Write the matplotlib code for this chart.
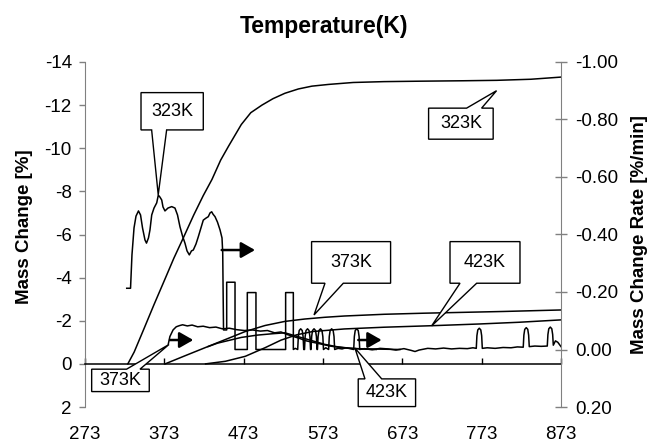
import matplotlib
matplotlib.use("Agg")
import matplotlib.pyplot as plt
from matplotlib.patches import Polygon

plt.rcParams["font.family"] = ["Liberation Sans", "DejaVu Sans"]
plt.rcParams["axes.unicode_minus"] = False

# ---- axis ticks ----
temp_ticks = [273, 373, 473, 573, 673, 773, 873]
mass_ticks = [-14, -12, -10, -8, -6, -4, -2, 0, 2]
rate_ticks = [-1.0, -0.8, -0.6, -0.4, -0.2, 0.0, 0.2]

# ---- mass change [%] vs temperature [K] ----
mass323_T = [327, 335, 347, 360, 374, 385, 397, 410, 422, 433, 444, 454, 462, 470,
             482, 496, 510, 525, 542, 559, 580, 611, 650, 695, 750, 792, 835, 873]
mass323 = [0.0, -0.55, -1.6, -2.75, -3.95, -4.9, -5.85, -6.9, -7.8, -8.55, -9.45, -10.1,
           -10.6, -11.1, -11.65, -12.0, -12.3, -12.55, -12.75, -12.88, -12.96, -13.05,
           -13.09, -13.11, -13.13, -13.15, -13.2, -13.3]

mass373_T = [374, 400, 425, 450, 475, 500, 525, 550, 575, 600, 650, 700, 750, 800, 873]
mass373 = [0.0, -0.39, -0.76, -1.13, -1.5, -1.78, -1.97, -2.08, -2.16, -2.22, -2.3,
           -2.35, -2.39, -2.43, -2.5]

mass423_T = [425, 450, 475, 500, 520, 540, 560, 600, 650, 710, 770, 820, 873]
mass423 = [0.0, -0.12, -0.35, -0.75, -1.1, -1.35, -1.5, -1.62, -1.7, -1.77, -1.85,
           -1.93, -2.04]

# ---- mass change rate [%/min] vs temperature [K] ----
rate323_T = [325.6, 330.4, 332.2, 334.8, 337.3, 340.4, 343.0, 345.5, 348.6, 350.5, 353.0,
             354.9, 357.1, 360.0, 363.4, 365.4, 367.5, 369.7, 371.3, 373.8, 377.6, 382.3,
             386.4, 389.6, 392.7, 395.9, 399.1, 401.6, 404.5, 407.2, 409.5, 412.9, 415.8,
             419.2, 422.1, 425.5, 428.4, 430.6, 432.7, 434.3, 436.9, 440.0, 443.2, 445.7,
             446.6, 447.2, 447.6, 451.6, 451.6, 462.1, 462.1, 477.6, 477.6, 488.5, 488.5,
             525.9, 525.9, 535.6, 535.6, 538.0,
             541.1, 541.9, 543.0, 544.9, 546.8, 547.9, 548.7,
             549.7, 550.5, 551.6, 553.5, 555.4, 556.5, 557.3,
             557.9, 558.7, 559.8, 561.7, 563.6, 564.7, 565.5,
             566.0, 566.8, 567.9, 569.8, 571.7, 572.8, 573.6,
             576.5,
             580.1, 580.9, 582.0, 583.9, 585.8, 586.9, 587.7,
             592, 597, 602, 607,
             611.7, 612.5, 613.6, 615.5, 617.4, 618.5, 619.3,
             625, 635, 645, 655, 665, 675, 684, 689, 694, 705, 715, 725, 735, 745, 755, 762,
             766.2, 767.0, 768.1, 770.0, 771.9, 773.0, 773.8,
             780, 790, 800, 810, 818,
             825.4, 826.2, 827.3, 829.2, 831.1, 832.2, 833.0,
             840, 848,
             855.7, 856.5, 857.6, 859.5, 861.4, 862.5, 863.3,
             866, 869, 873]
rate323 = [-0.213, -0.213, -0.329, -0.423, -0.464, -0.482, -0.468, -0.423, -0.381, -0.370,
           -0.388, -0.416, -0.468, -0.492, -0.510, -0.537, -0.530, -0.520, -0.496, -0.482,
           -0.492, -0.497, -0.492, -0.468, -0.427, -0.395, -0.369, -0.343, -0.329, -0.343,
           -0.346, -0.367, -0.392, -0.423, -0.450, -0.457, -0.462, -0.475, -0.479, -0.471,
           -0.462, -0.443, -0.416, -0.388, -0.336, -0.172, -0.068, -0.068, -0.234, -0.234,
           0.0, 0.0, -0.198, -0.198, 0.0, 0.0, -0.198, -0.198, 0.0, -0.004,
           0.0, -0.045, -0.066, -0.072, -0.066, -0.045, 0.0,
           0.0, -0.045, -0.066, -0.072, -0.066, -0.045, 0.0,
           0.0, -0.045, -0.066, -0.072, -0.066, -0.045, 0.0,
           0.0, -0.045, -0.066, -0.072, -0.066, -0.045, 0.0,
           -0.006,
           0.0, -0.045, -0.066, -0.072, -0.066, -0.045, 0.0,
           -0.004, -0.002, -0.006, -0.003,
           0.0, -0.045, -0.066, -0.072, -0.066, -0.045, 0.0,
           -0.003, 0.001, -0.004, -0.002, 0.002, -0.003, 0.003, 0.007, 0.002, -0.004,
           -0.002, -0.005, -0.002, -0.004, -0.003, -0.006,
           -0.004, -0.048, -0.068, -0.074, -0.068, -0.048, -0.004,
           -0.006, -0.004, -0.007, -0.006, -0.009,
           -0.008, -0.050, -0.070, -0.076, -0.070, -0.050, -0.010,
           -0.012, -0.011,
           -0.012, -0.052, -0.072, -0.078, -0.072, -0.052, -0.015,
           -0.030, -0.025, -0.010]

rate373_T = [378, 380, 384, 388, 392, 396, 402, 408, 415, 422, 430, 438, 446, 455, 464,
             474, 484, 494, 503, 512, 520, 528, 536, 544, 552, 562, 572, 582, 592, 603,
             615, 630, 650, 670]
rate373 = [-0.019, -0.045, -0.068, -0.079, -0.083, -0.086, -0.082, -0.085, -0.079, -0.081,
           -0.076, -0.078, -0.072, -0.074, -0.069, -0.066, -0.068, -0.064, -0.066, -0.058,
           -0.061, -0.052, -0.045, -0.038, -0.030, -0.024, -0.018, -0.012, -0.008, -0.005,
           -0.003, -0.002, -0.001, 0.0]

rate423_T = [428, 440, 455, 470, 490, 510, 525, 535, 545, 560, 575, 590, 605, 620, 640]
rate423 = [-0.010, -0.022, -0.032, -0.042, -0.050, -0.055, -0.058, -0.050, -0.042,
           -0.030, -0.018, -0.010, -0.005, -0.002, 0.0]

# ---- callouts: text, box (T0, T1, mass top, mass bottom), wedge base T, tip, edge ----
callouts = [
    ("323K", (343.6, 422.1, -12.58, -10.85), (357.0, 375.9), (365.3, -7.84), "bottom"),
    ("323K", (706.1, 787.5, -11.86, -10.42), (754.0, 772.9), (791.8, -12.67), "top"),
    ("373K", (558.6, 658.2, -5.67, -3.74), (575.5, 598.6), (561.7, -2.27), "bottom"),
    ("423K", (733.1, 821.3, -5.67, -3.74), (745.7, 766.7), (709.9, -1.76), "bottom"),
    ("373K", (281.4, 354.0, 0.246, 1.285), (325.4, 342.3), (378.9, -0.90), "top"),
    ("423K", (617.4, 689.7, 0.696, 1.98), (625.9, 647.0), (613.3, -0.73), "top"),
]

# ---- arrows marking the rate curves (T start, T end, rate level) ----
arrows = [(445.3, 487.3, -0.346), (380.1, 409.5, -0.033), (617.5, 646.9, -0.033)]

fig = plt.figure(figsize=(6.49, 4.42), dpi=100)
ax = fig.add_axes([85 / 649, 35 / 442, 476 / 649, 345 / 442])
ax2 = ax.twinx()

line_kw = dict(color="black", lw=1.1, solid_joinstyle="round")
ax.plot(mass323_T, mass323, **line_kw)
ax.plot(mass373_T, mass373, **line_kw)
ax.plot(mass423_T, mass423, **line_kw)
ax2.plot(rate323_T, rate323, **line_kw)
ax2.plot(rate373_T, rate373, **line_kw)
ax2.plot(rate423_T, rate423, **line_kw)

ax.set_xlim(273, 873)
ax.set_ylim(2, -14)
ax2.set_ylim(0.2, -1.0)

# left axis
ax.set_yticks(mass_ticks)
ax.set_yticklabels([str(v) for v in mass_ticks])
ax.tick_params(axis="y", direction="out", length=4.5, width=1, color="#808080",
               labelsize=13.5, pad=5)
ax.spines["left"].set_color("#808080")
ax.spines["top"].set_visible(False)
ax.spines["right"].set_visible(False)

# zero line carries the temperature ticks
ax.spines["bottom"].set_position(("data", 0))
ax.spines["bottom"].set_linewidth(1.1)
ax.set_xticks(temp_ticks)
ax.tick_params(axis="x", direction="in", length=4.5, width=1, labelbottom=False)

sec = ax.secondary_xaxis("bottom")
sec.set_xticks(temp_ticks)
sec.set_xticklabels([str(v) for v in temp_ticks])
sec.tick_params(length=0, labelsize=13.5, pad=14)
sec.spines["bottom"].set_visible(False)

# right axis
ax2.set_yticks(rate_ticks)
ax2.set_yticklabels([f"{v:.2f}" for v in rate_ticks])
ax2.tick_params(axis="y", direction="inout", length=9, width=1, color="#808080",
                labelsize=13.5, pad=6)
ax2.spines["right"].set_color("#808080")
for s in ("top", "left", "bottom"):
    ax2.spines[s].set_visible(False)

# titles and axis labels
fig.text(323.5 / 649, 1 - 27 / 442, "Temperature(K)", ha="center", va="center",
         fontsize=16.5, fontweight="bold")
fig.text(25 / 649, 1 - 227 / 442, "Mass Change [%]", ha="center", va="center",
         rotation=90, fontsize=13.5, fontweight="bold")
fig.text(639 / 649, 1 - 234.5 / 442, "Mass Change Rate [%/min]", ha="center",
         va="center", rotation=90, fontsize=13.5, fontweight="bold")

# arrows
for t0, t1, r in arrows:
    ax2.annotate("", xy=(t1, r), xytext=(t0, r),
                 arrowprops=dict(arrowstyle="-|>,head_length=0.7,head_width=0.4",
                                 lw=1.8, color="black", shrinkA=0, shrinkB=0,
                                 mutation_scale=12))

# callout boxes
for text, (x0, x1, yt, yb), (b0, b1), tip, edge in callouts:
    if edge == "bottom":
        verts = [(x0, yt), (x1, yt), (x1, yb), (b1, yb), tip, (b0, yb), (x0, yb)]
    else:
        verts = [(x0, yt), (b0, yt), tip, (b1, yt), (x1, yt), (x1, yb), (x0, yb)]
    poly = Polygon(verts, closed=True, facecolor="white", edgecolor="black", lw=1.0,
                   transform=ax.transData, zorder=5, clip_on=False)
    ax2.add_patch(poly)
    ax2.text((x0 + x1) / 2, (yt + yb) / 2, text, transform=ax.transData, ha="center",
             va="center", fontsize=13, zorder=6)

fig.savefig("out.png", dpi=100)
